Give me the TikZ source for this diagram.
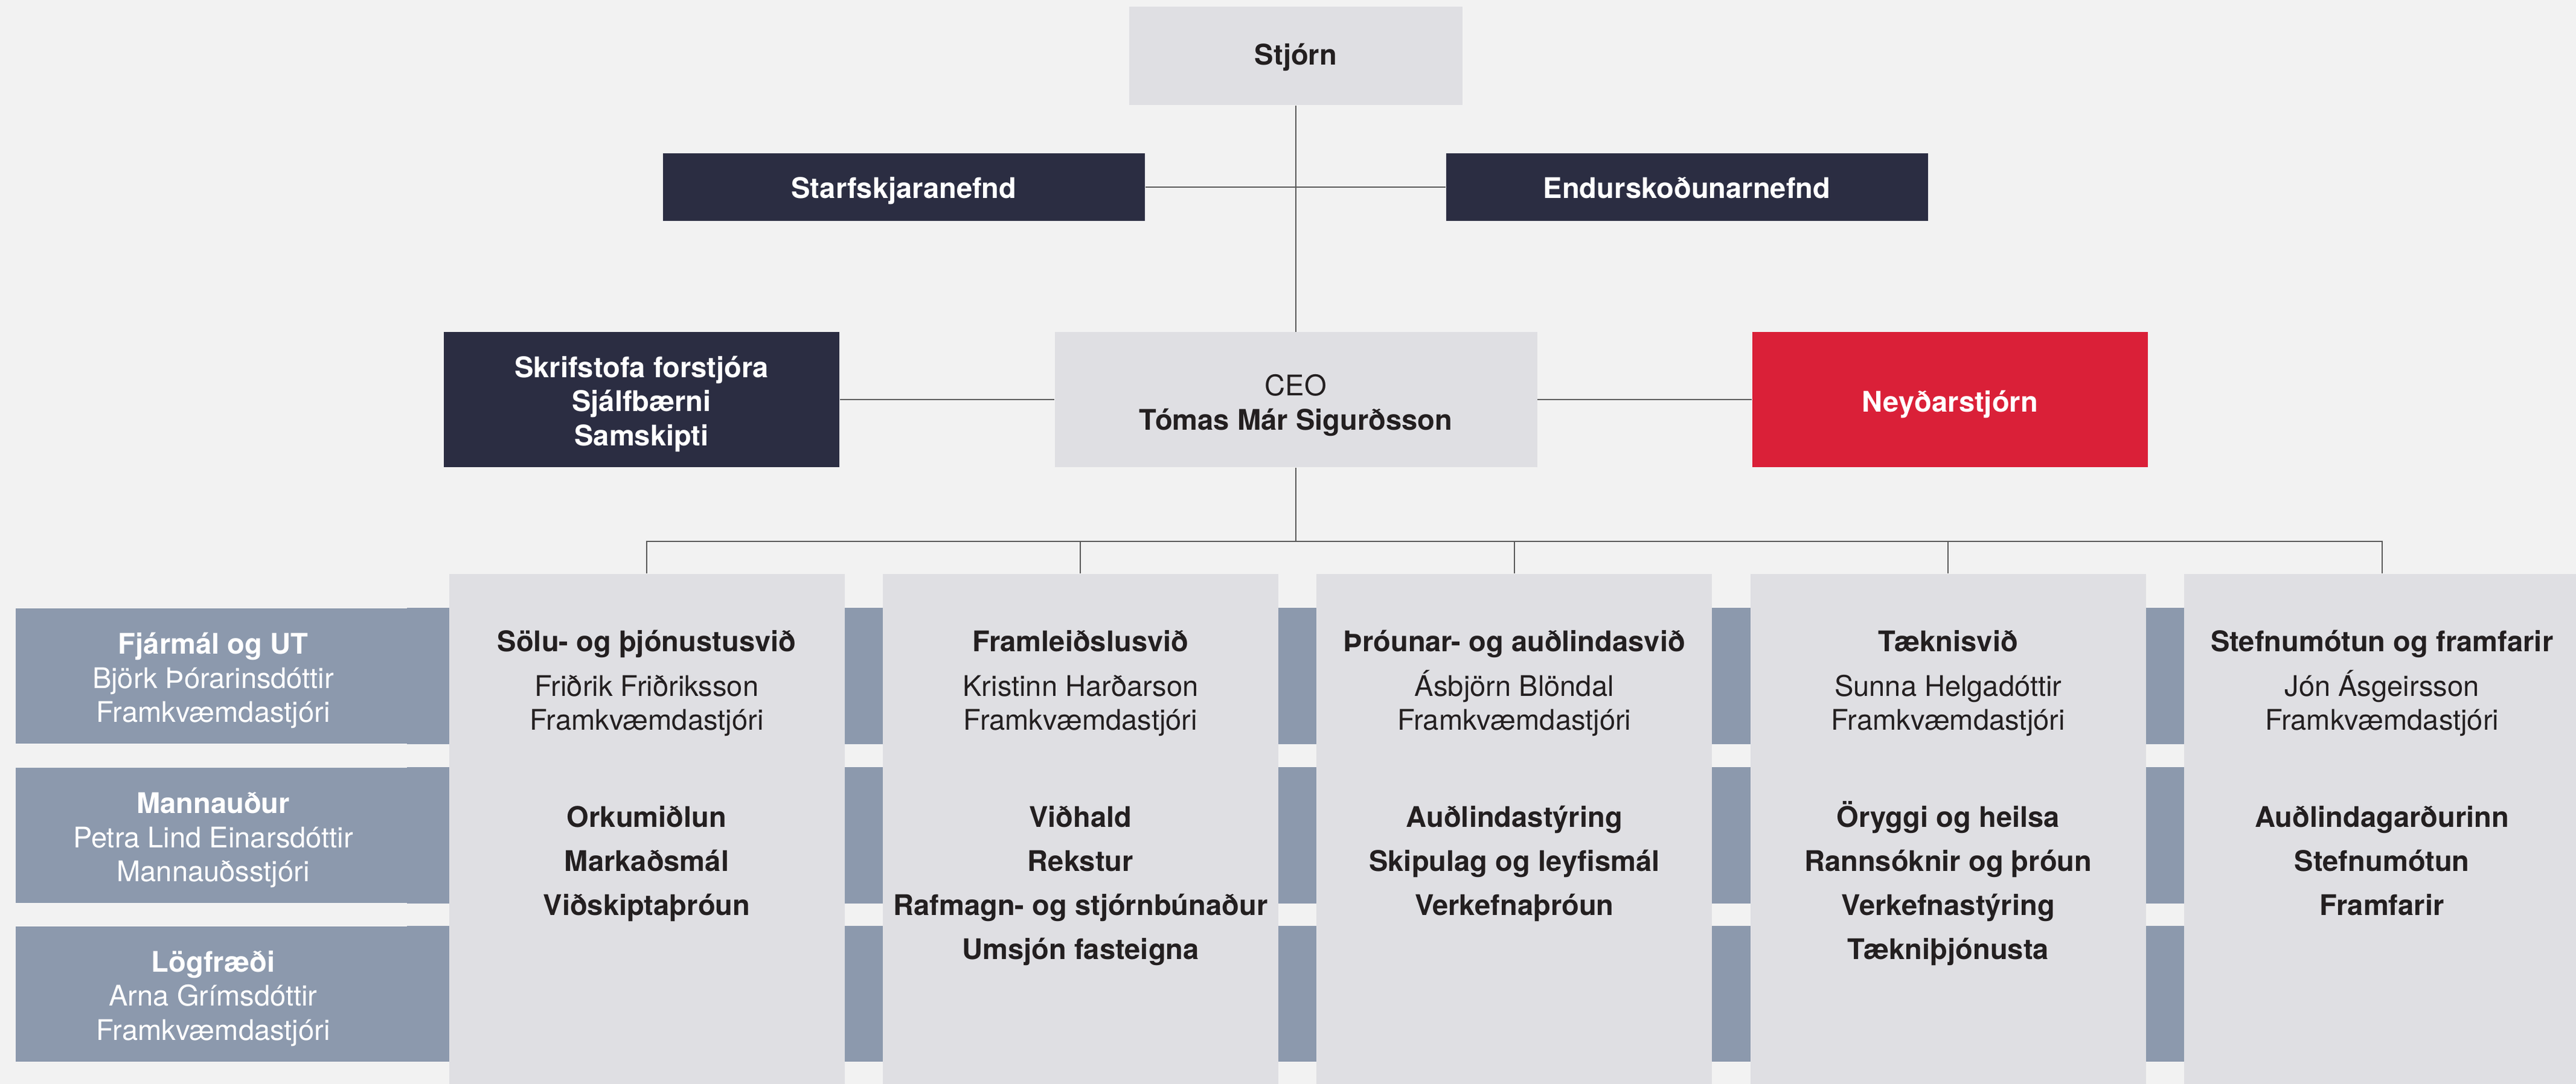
\documentclass[tikz,border=0pt]{standalone}
\usepackage{fontspec}
\setmainfont{TeX Gyre Heros}
\usetikzlibrary{positioning}

\definecolor{paper}{HTML}{F2F2F2}
\definecolor{boxGrey}{HTML}{DFDFE3}
\definecolor{navy}{HTML}{2B2D42}
\definecolor{alarmRed}{HTML}{DA2038}
\definecolor{slate}{HTML}{8C99AD}
\definecolor{ink}{HTML}{231F20}
\definecolor{wireGrey}{HTML}{5A5A5A}

\begin{document}
\begin{tikzpicture}[
    wire/.style = {draw=wireGrey, line width=0.02cm}, % connector lines
    node distance = 3.55cm, % gap beside the CEO
    every node/.style = {font=\fontsize{13.4pt}{16.1pt}\selectfont, align=center, inner sep=0pt}
    ]

    \tikzset{
    board/.style = {fill=boxGrey, text=ink, font=\fontsize{13.4pt}{16.1pt}\selectfont\bfseries,
        minimum width=5.52cm, minimum height=1.63cm, text height=8pt, text depth=0pt},
    committee/.style = {fill=navy, text=white, font=\fontsize{13.4pt}{16.1pt}\selectfont\bfseries,
        minimum width=7.98cm, minimum height=1.12cm, text height=10.8pt, text depth=0pt},
    unit/.style = {fill=boxGrey, text=ink, minimum width=7.99cm, minimum height=2.24cm,
        text height=28.4pt, text depth=0pt},
    office/.style = {fill=navy, text=white, font=\fontsize{13.4pt}{16.1pt}\selectfont\bfseries,
        minimum width=6.55cm, minimum height=2.24cm, text height=43.2pt, text depth=0pt},
    crisis/.style = {office, fill=alarmRed, text height=11.4pt},
    staff/.style = {fill=slate, text=white, minimum width=6.54cm, minimum height=2.24cm,
        text height=43.8pt, text depth=0pt},
    division/.style = {fill=boxGrey, minimum width=6.55cm, minimum height=8.45cm},
    divhead/.style = {text=ink, anchor=base},
    divitems/.style = {text=ink, anchor=base, font=\fontsize{13.4pt}{20.8pt}\selectfont\bfseries}
    }

    \useasboundingbox (0,0) rectangle (42.66,-17.96);
    \fill[paper] (0,0) rectangle (42.66,-17.96);

    % top of the tree
    \node[board] (board) at (21.46,-0.93) {Stjórn};
    \node[committee] (pay) at (14.97,-3.10) {Starfskjaranefnd};
    \node[committee] (audit) at (27.935,-3.10) {Endurskoðunarnefnd};
    \node[unit] (ceo) [below=3.745cm of board] {CEO\\\textbf{Tómas Már Sigurðsson}};
    \node[office] (office) [left=of ceo] {Skrifstofa forstjóra\\Sjálfbærni\\Samskipti};
    \node[crisis] (crisis) [right=of ceo] {Neyðarstjórn};

    \draw[wire] (board) -- (ceo);
    \draw[wire] (pay) -- (audit);
    \draw[wire] (office) -- (ceo);
    \draw[wire] (ceo) -- (crisis);

    % staff units, their bands run behind the divisions
    \node[staff] (finance) at (3.53,-11.20) {\textbf{Fjármál og UT}\\Björk Þórarinsdóttir\\Framkvæmdastjóri};
    \node[staff] (people) at (3.53,-13.84) {\textbf{Mannauður}\\Petra Lind Einarsdóttir\\Mannauðsstjóri};
    \node[staff] (legal) at (3.53,-16.465) {\textbf{Lögfræði}\\Arna Grímsdóttir\\Framkvæmdastjóri};
    \fill[slate] ([xshift=-2pt]finance.north east) rectangle ([xshift=35.86cm]finance.south east);
    \fill[slate] ([xshift=-2pt]people.north east) rectangle ([xshift=35.86cm]people.south east);
    \fill[slate] ([xshift=-2pt]legal.north east) rectangle ([xshift=35.86cm]legal.south east);

    % divisions
    \node[division] (d1) at (10.71,-13.735) {};
    \node[division] (d2) [right=0.62cm of d1] {};
    \node[division] (d3) [right=0.62cm of d2] {};
    \node[division] (d4) [right=0.62cm of d3] {};
    \node[division] (d5) [right=0.62cm of d4] {};

    \node[divhead] (h1) at ([yshift=-2.595cm]d1.north) {\textbf{Sölu- og þjónustusvið}\\[5pt]Friðrik Friðriksson\\Framkvæmdastjóri};
    \node[divhead] (h2) at ([yshift=-2.595cm]d2.north) {\textbf{Framleiðslusvið}\\[5pt]Kristinn Harðarson\\Framkvæmdastjóri};
    \node[divhead] (h3) at ([yshift=-2.595cm]d3.north) {\textbf{Þróunar- og auðlindasvið}\\[5pt]Ásbjörn Blöndal\\Framkvæmdastjóri};
    \node[divhead] (h4) at ([yshift=-2.595cm]d4.north) {\textbf{Tæknisvið}\\[5pt]Sunna Helgadóttir\\Framkvæmdastjóri};
    \node[divhead] (h5) at ([yshift=-2.595cm]d5.north) {\textbf{Stefnumótun og framfarir}\\[5pt]Jón Ásgeirsson\\Framkvæmdastjóri};

    \node[divitems] (t1) at ([yshift=-5.665cm]d1.north) {Orkumiðlun\\Markaðsmál\\Viðskiptaþróun};
    \node[divitems] (t2) at ([yshift=-6.395cm]d2.north) {Viðhald\\Rekstur\\Rafmagn- og stjórnbúnaður\\Umsjón fasteigna};
    \node[divitems] (t3) at ([yshift=-5.665cm]d3.north) {Auðlindastýring\\Skipulag og leyfismál\\Verkefnaþróun};
    \node[divitems] (t4) at ([yshift=-6.395cm]d4.north) {Öryggi og heilsa\\Rannsóknir og þróun\\Verkefnastýring\\Tækniþjónusta};
    \node[divitems] (t5) at ([yshift=-5.665cm]d5.north) {Auðlindagarðurinn\\Stefnumótun\\Framfarir};

    % bus from the CEO to the divisions
    \draw[wire] (ceo.south) -- ++(0,-1.22) coordinate (bus);
    \draw[wire] (d1.north) |- (bus) -| (d5.north);
    \draw[wire] (d2.north) -- (d2.north |- bus);
    \draw[wire] (d3.north) -- (d3.north |- bus);
    \draw[wire] (d4.north) -- (d4.north |- bus);
\end{tikzpicture}
\end{document}
